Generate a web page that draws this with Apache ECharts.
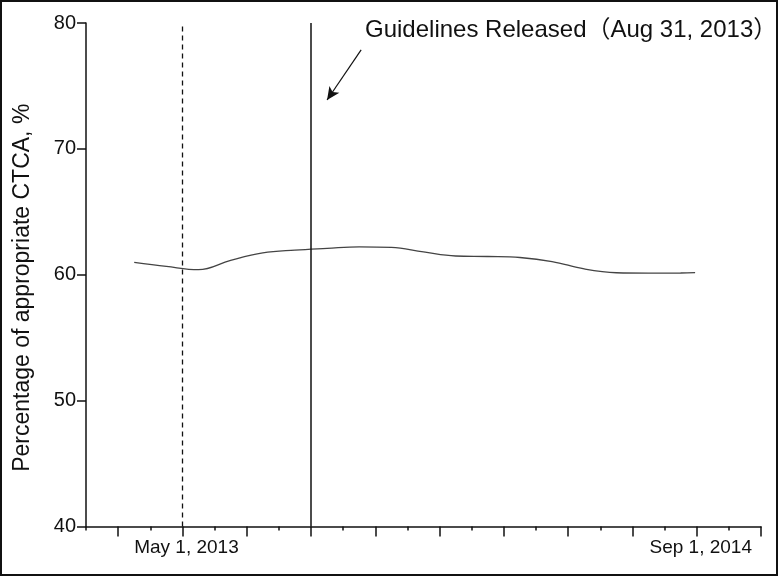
<!DOCTYPE html>
<html>
<head>
<meta charset="utf-8">
<script src="https://cdn.jsdelivr.net/npm/echarts@6/dist/echarts.min.js"></script>
<style>
html,body{margin:0;padding:0;background:#fff;}
#chart{width:779px;height:577px;}
</style>
</head>
<body>
<div id="chart"></div>
<script>
// Months counted from Feb 1, 2013 (0) to Nov 1, 2014 (21)
const monthIdx = [1.5, 2.5, 3.5, 4.5, 5.5, 6.5, 7.5, 8.5, 9.5, 10.5, 11.5, 12.5, 13.5, 14.5, 15.5, 16.5, 17.5, 18.5, 18.95];
const pctAppropriate = [60.99, 60.66, 60.40, 61.14, 61.73, 61.96, 62.10, 62.22, 62.17, 61.81, 61.49, 61.45, 61.37, 61.05, 60.46, 60.16, 60.13, 60.14, 60.17];
const labelMonths = [3, 19];
const labelTexts = ['May 1, 2013', 'Sep 1, 2014'];
const majorTickMonths = [1, 3, 5, 7, 9, 11, 13, 15, 17, 19, 21];
const dashedEventMonth = 3;   // May 1, 2013
const guidelineMonth = 7;     // Aug 31, 2013
const arrowFrom = [8.56, 77.86];
const arrowTo = [7.5, 73.88];
const annotation = 'Guidelines Released\uFF08Aug 31, 2013\uFF09';
const yTitle = 'Percentage of appropriate CTCA, %';

const FONT = '"Liberation Sans", Arial, "Noto Sans CJK SC", sans-serif';
const chart = echarts.init(document.getElementById('chart'), null, {renderer: 'canvas'});

const seriesData = monthIdx.map((m, i) => [m, pctAppropriate[i]]);

chart.setOption({
  animation: false,
  backgroundColor: '#fff',
  textStyle: {fontFamily: FONT},
  title: {
    text: annotation,
    left: 360,
    top: 13,
    textStyle: {fontFamily: FONT, fontSize: 24, fontWeight: 'normal', color: '#111'}
  },
  graphic: [{
    type: 'rect',
    shape: {x: 1, y: 1, width: 776, height: 574},
    style: {fill: 'none', stroke: '#111', lineWidth: 2},
    silent: true
  }],
  grid: {left: 86, right: 18, top: 23, bottom: 50.5, containLabel: false},
  xAxis: [{
    type: 'value',
    min: 0,
    max: 21,
    interval: 1,
    splitLine: {show: false},
    axisLine: {show: true, onZero: false, lineStyle: {color: '#111', width: 1.5}},
    axisTick: {show: true, customValues: majorTickMonths, length: 10, inside: false, lineStyle: {color: '#111', width: 1.5}},
    axisLabel: {
      show: true,
      customValues: labelMonths,
      formatter: v => { const k = labelMonths.indexOf(v); return k >= 0 ? labelTexts[k] : ''; },
      fontSize: 19, color: '#111', fontFamily: FONT, margin: 12, padding: [0, 0, 0, 8]
    }
  }, {
    type: 'value',
    min: 0,
    max: 21,
    interval: 1,
    position: 'bottom',
    splitLine: {show: false},
    axisLine: {show: false},
    axisTick: {show: true, length: 4, lineStyle: {color: '#111', width: 1.5}},
    axisLabel: {show: false}
  }],
  yAxis: {
    type: 'value',
    min: 40,
    max: 80,
    interval: 10,
    name: yTitle,
    nameLocation: 'middle',
    nameGap: 52,
    nameRotate: 90,
    nameTextStyle: {fontSize: 23, color: '#111', fontFamily: FONT, padding: [0, 0, 0, -26]},
    splitLine: {show: false},
    axisLine: {show: true, lineStyle: {color: '#111', width: 1.5}},
    axisTick: {show: true, length: 9, lineStyle: {color: '#111', width: 1.5}},
    axisLabel: {fontSize: 20, color: '#111', fontFamily: FONT, margin: 10}
  },
  series: [{
    type: 'line',
    data: seriesData,
    smooth: 0.4,
    showSymbol: false,
    lineStyle: {color: '#444', width: 1.3},
    markLine: {
      silent: true,
      symbol: 'none',
      label: {show: false},
      data: [
        {xAxis: dashedEventMonth, lineStyle: {type: [5, 4], color: '#111', width: 1.3}},
        {xAxis: guidelineMonth, lineStyle: {type: 'solid', color: '#111', width: 1.5}},
        [
          {coord: arrowFrom, symbol: 'none', lineStyle: {type: 'solid', color: '#111', width: 1.2}},
          {coord: arrowTo, symbol: 'arrow', symbolSize: [9, 13]}
        ]
      ]
    }
  }]
});
</script>
</body>
</html>
